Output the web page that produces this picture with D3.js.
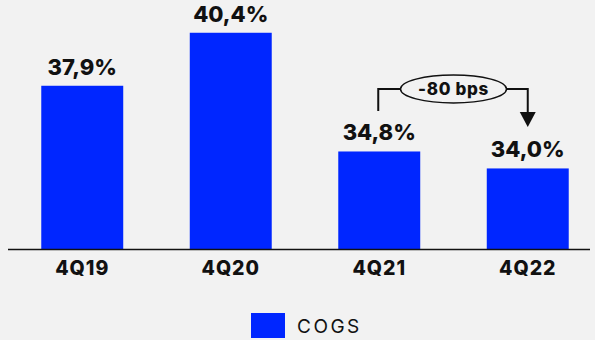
<!DOCTYPE html>
<html>
<head>
<meta charset="utf-8">
<script src="https://cdn.jsdelivr.net/npm/d3@7"></script>
<style>
  body { margin: 0; background: #f2f2f2; }
  svg { display: block; font-family: Inter, "Open Sans", sans-serif; }
</style>
</head>
<body>
<div id="chart"></div>
<script>
// data
var quarters = ["4Q19", "4Q20", "4Q21", "4Q22"];
var cogs = [37.9, 40.4, 34.8, 34.0];
var valueLabels = ["37,9%", "40,4%", "34,8%", "34,0%"];
var deltaLabel = "-80 bps";

var svgWidth = 595;
var svgHeight = 340;
var baseY = 249;

var svg = d3.select("#chart")
  .append("svg")
  .attr("width", svgWidth)
  .attr("height", svgHeight);

svg.append("rect")
  .attr("width", svgWidth)
  .attr("height", svgHeight)
  .attr("fill", "#f2f2f2");

// x scale: bars ~82px wide, 148.5px apart
var xScale = d3.scaleBand()
  .domain(quarters)
  .range([8, 602])
  .paddingInner(0.448)
  .paddingOuter(0.224);

// y axis is not zero-based in the original
var yScale = d3.scaleLinear()
  .domain([30.2, 42])
  .range([baseY, baseY - 11.8 * 21.2]);

var blue = "#0026ff";

svg.selectAll("rect.bar")
  .data(cogs)
  .enter()
  .append("rect")
  .attr("class", "bar")
  .attr("x", (d, i) => xScale(quarters[i]))
  .attr("y", d => yScale(d))
  .attr("width", xScale.bandwidth())
  .attr("height", d => baseY - yScale(d))
  .attr("fill", blue);

// value labels
svg.selectAll("text.val")
  .data(cogs)
  .enter()
  .append("text")
  .attr("class", "val")
  .attr("x", (d, i) => xScale(quarters[i]) + xScale.bandwidth() / 2)
  .attr("y", d => yScale(d) - 11)
  .attr("text-anchor", "middle")
  .attr("font-size", 22)
  .attr("font-weight", 800)
  .attr("fill", "#111")
  .text((d, i) => valueLabels[i]);

// baseline
svg.append("line")
  .attr("x1", 8)
  .attr("x2", 590)
  .attr("y1", baseY + 0.5)
  .attr("y2", baseY + 0.5)
  .attr("stroke", "#111")
  .attr("stroke-width", 1.5);

// category labels
var xAxis = d3.axisBottom(xScale).tickSize(0).tickPadding(0);
var axisG = svg.append("g")
  .attr("transform", `translate(0, ${baseY})`)
  .call(xAxis);
axisG.select(".domain").remove();
axisG.selectAll("text")
  .attr("dy", 0)
  .attr("y", 26)
  .attr("font-family", "Inter, 'Open Sans', sans-serif")
  .attr("font-size", 19.5)
  .attr("font-weight", 800)
  .attr("letter-spacing", 1)
  .attr("fill", "#111");

// annotation between 4Q21 and 4Q22
var x3 = xScale(quarters[2]) + xScale.bandwidth() / 2;
var x4 = xScale(quarters[3]) + xScale.bandwidth() / 2;
var lineY = 89;
var ellCx = (x3 + x4) / 2;
var ellRx = 53;

svg.append("path")
  .attr("d", `M${x3 - 1},111 V${lineY} H${ellCx - ellRx}`)
  .attr("fill", "none")
  .attr("stroke", "#111")
  .attr("stroke-width", 2);

svg.append("path")
  .attr("d", `M${ellCx + ellRx},${lineY} H${x4} V113`)
  .attr("fill", "none")
  .attr("stroke", "#111")
  .attr("stroke-width", 2);

svg.append("path")
  .attr("d", `M${x4 - 8},112 L${x4 + 8},112 L${x4},127 Z`)
  .attr("fill", "#111");

svg.append("ellipse")
  .attr("cx", ellCx)
  .attr("cy", lineY)
  .attr("rx", ellRx)
  .attr("ry", 14)
  .attr("fill", "#f2f2f2")
  .attr("stroke", "#111")
  .attr("stroke-width", 1.5);

svg.append("text")
  .attr("x", ellCx)
  .attr("y", lineY + 6)
  .attr("text-anchor", "middle")
  .attr("font-size", 17)
  .attr("font-weight", 800)
  .attr("letter-spacing", 0.7)
  .attr("fill", "#111")
  .text(deltaLabel);

// legend
svg.append("rect")
  .attr("x", 251)
  .attr("y", 313)
  .attr("width", 34)
  .attr("height", 25)
  .attr("fill", blue);

svg.append("text")
  .attr("x", 297)
  .attr("y", 333)
  .attr("font-size", 19)
  .attr("letter-spacing", 2.5)
  .attr("fill", "#111")
  .text("COGS");
</script>
</body>
</html>
